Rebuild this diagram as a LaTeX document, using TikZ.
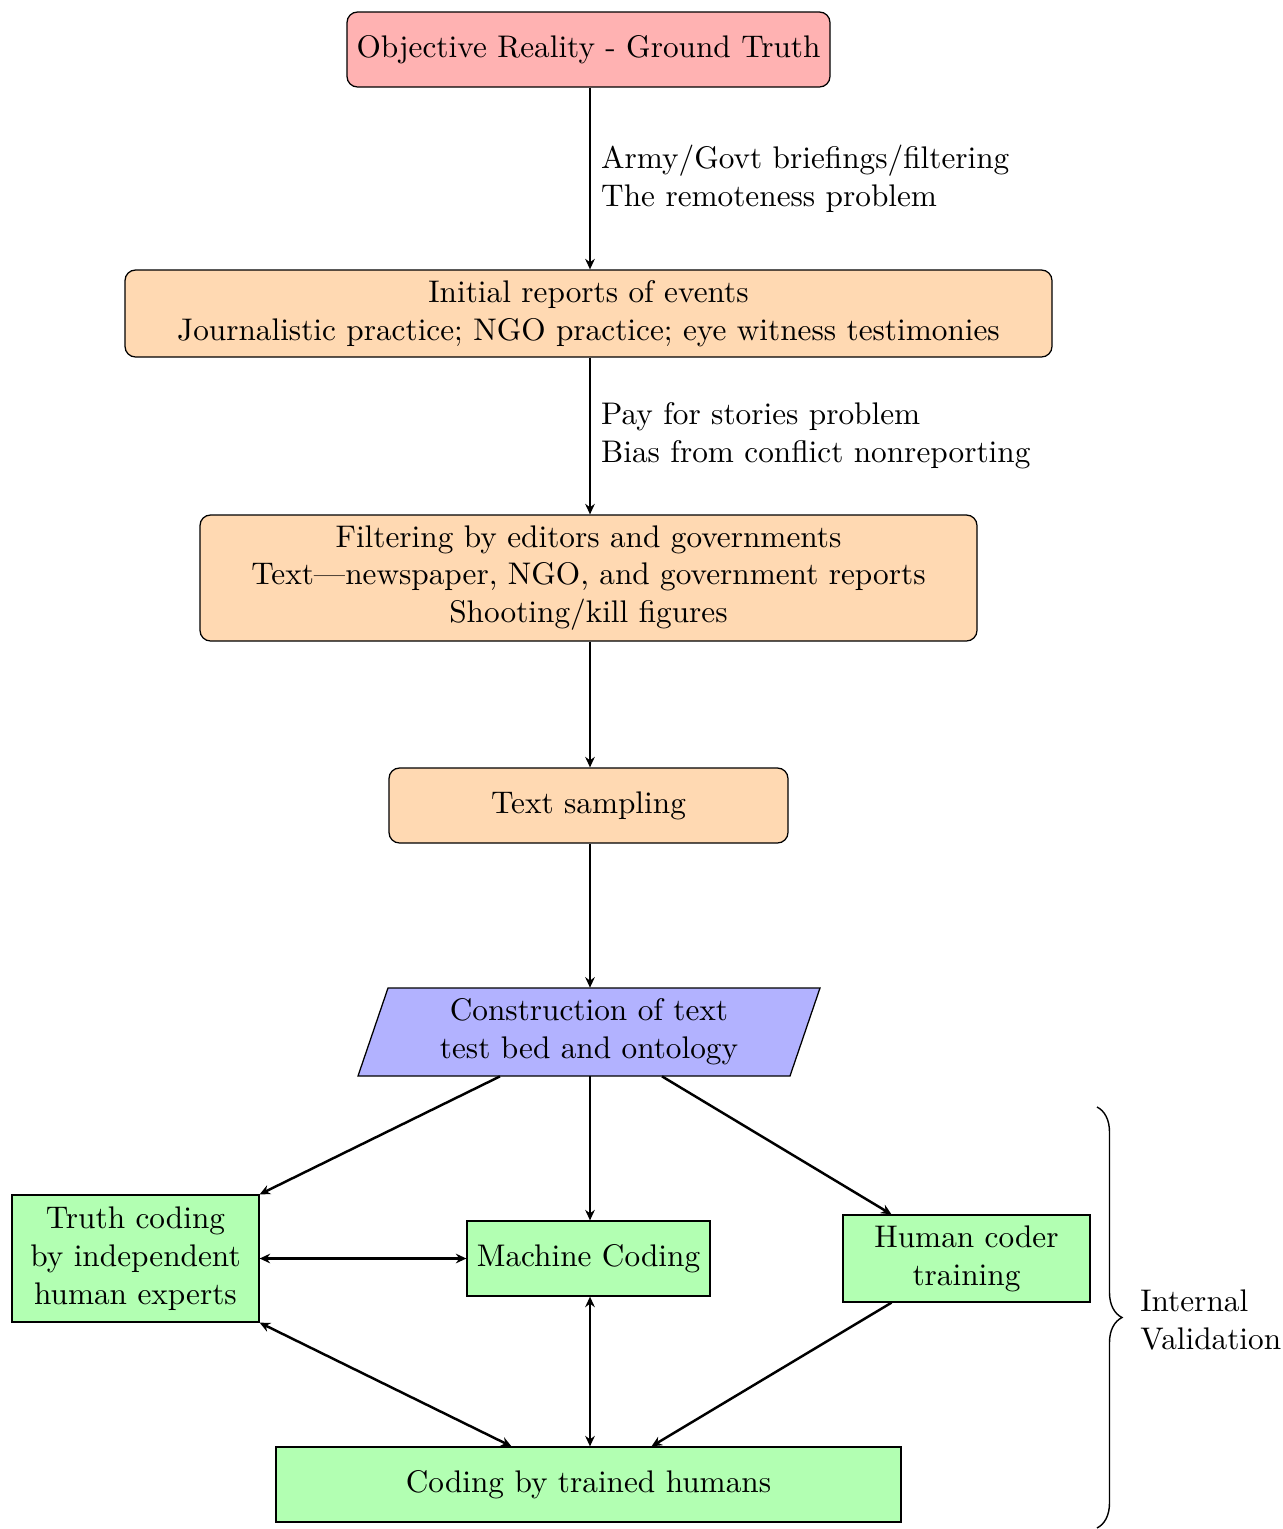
\documentclass[tikz,border=0pt]{standalone}
\usepackage{fontspec}
\newfontfamily\lmten[Ligatures=TeX]{lmroman10-regular.otf}
\usetikzlibrary{decorations.pathreplacing,calc,arrows.meta}
\begin{document}
\begin{tikzpicture}[x=0.02cm,y=-0.02cm,
  every node/.style={font=\lmten\fontsize{17.8}{21.6}\selectfont},
  rbox/.style={draw, line width=0.72pt, rounded corners=6pt, align=center, inner sep=0pt},
  gbox/.style={draw, line width=0.72pt, fill=green!30, align=center, inner sep=0pt},
  conn/.style={-{Stealth[length=6pt,width=5.5pt,inset=2pt]}, line width=1.4pt},
  dconn/.style={{Stealth[length=6pt,width=5.5pt,inset=2pt]}-{Stealth[length=6pt,width=5.5pt,inset=2pt]}, line width=1.4pt},
  lbl/.style={align=left, anchor=west, inner sep=0pt}]
\useasboundingbox (0,0) rectangle (1283,1529);
\node[rbox, fill=red!30, minimum width=483*0.02cm, minimum height=75*0.02cm] (truth0) at (588.5,49.5) {Objective Reality - Ground Truth};
\node[rbox, fill=orange!30, minimum width=927*0.02cm, minimum height=87*0.02cm] (init) at (588.5,313.5) {Initial reports of events\\Journalistic practice; NGO practice; eye witness testimonies};
\node[rbox, fill=orange!30, minimum width=777*0.02cm, minimum height=126*0.02cm] (filt) at (588.5,578) {Filtering by editors and governments\\Text---newspaper, NGO, and government reports\\Shooting/kill figures};
\node[rbox, fill=orange!30, minimum width=399*0.02cm, minimum height=75*0.02cm] (samp) at (588.5,805.5) {Text sampling};
\draw[fill=blue!30, line width=0.72pt] (358,1076) -- (388,988) -- (820,988) -- (790,1076) -- cycle;
\node[minimum width=432*0.02cm, minimum height=88*0.02cm, inner sep=0pt, align=center] (constr) at (589,1032) {Construction of text\\test bed and ontology};
\node[gbox, minimum width=247*0.02cm, minimum height=127*0.02cm] (tc) at (135.5,1258.5) {Truth coding\\by independent\\human experts};
\node[gbox, minimum width=243*0.02cm, minimum height=75*0.02cm] (mc) at (588.5,1258.5) {Machine Coding};
\node[gbox, minimum width=247*0.02cm, minimum height=87*0.02cm] (hct) at (966.5,1258.5) {Human coder\\training};
\node[gbox, minimum width=625*0.02cm, minimum height=75*0.02cm] (cth) at (588.5,1484.5) {Coding by trained humans};
\draw[conn] (truth0.south -| 590,0) -- (init.north -| 590,0) node[pos=0.5, lbl, xshift=0.2cm] (l1) {Army/Govt briefings/filtering\\The remoteness problem};
\draw[conn] (init.south -| 590,0) -- (filt.north -| 590,0) node[pos=0.5, lbl, xshift=0.2cm] (l2) {Pay for stories problem\\Bias from conflict nonreporting};
\draw[conn] (filt.south -| 590,0) -- (samp.north -| 590,0);
\draw[conn] (samp.south -| 590,0) -- (constr.north -| 590,0);
\draw[conn] ($(constr.south)+(-89,0)$) -- (tc.north east);
\draw[conn] (constr.south -| 590,0) -- (mc.north -| 590,0);
\draw[conn] ($(constr.south)+(73,0)$) -- ($(hct.north)+(-75,0)$);
\draw[dconn] (tc.east) -- (mc.west);
\draw[dconn] (tc.south east) -- ($(cth.north)+(-77,0)$);
\draw[dconn] (mc.south -| 590,0) -- (cth.north -| 590,0);
\draw[conn] ($(hct.south)+(-75,0)$) -- ($(cth.north)+(63,0)$);
\coordinate (bt) at (1097,1107);
\coordinate (bb) at (1097,1528);
\draw[decorate, decoration={brace, amplitude=0.5cm}, line width=0.8pt] (bt) -- (bb);
\node[lbl] (iv) at (1140,1320) {Internal\\Validation};
\end{tikzpicture}
\end{document}
